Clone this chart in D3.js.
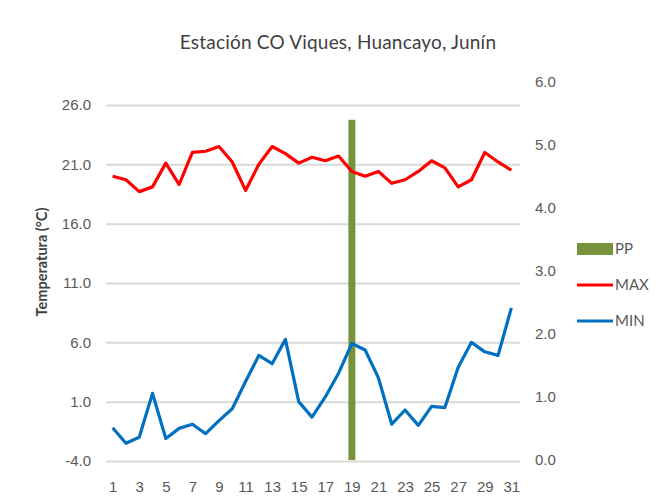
<!DOCTYPE html>
<html lang="es">
<head>
<meta charset="UTF-8">
<title>Estación CO Viques, Huancayo, Junín</title>
<script src="https://d3js.org/d3.v7.min.js"></script>
<style>
    body { margin: 0; background: white; }
    svg { display: block; font-family: Lato, 'Open Sans', sans-serif; }
</style>
</head>
<body>
<svg width="665" height="504"></svg>
<script>
    // days of the month
    const days = d3.range(1, 32);
    // daily max / min temperature (°C)
    const tmax = [20.0, 19.7, 18.7, 19.1, 21.1, 19.3, 22.0, 22.1, 22.5, 21.2,
                  18.8, 21.0, 22.5, 21.9, 21.1, 21.6, 21.3, 21.7, 20.4, 20.0,
                  20.4, 19.4, 19.7, 20.4, 21.3, 20.7, 19.1, 19.7, 22.0, 21.2, 20.5];
    const tmin = [-1.2, -2.5, -2.0, 1.7, -2.1, -1.25, -0.9, -1.7, -0.6, 0.4,
                  2.7, 4.9, 4.2, 6.25, 1.0, -0.3, 1.4, 3.4, 5.9, 5.35,
                  3.0, -0.9, 0.3, -1.0, 0.6, 0.5, 3.9, 6.0, 5.2, 4.9, 8.9];
    // precipitation (right axis)
    const pp = days.map(d => d === 19 ? 5.4 : 0);
    const leftTicks = [-4, 1, 6, 11, 16, 21, 26];
    const rightTicks = [0, 1, 2, 3, 4, 5, 6];

    const svg = d3.select("svg");
    const plot = {left: 106, right: 518, top: 105, bottom: 461};
    const textColor = "#595959";
    const fmt = d => d.toFixed(1);

    const x = d3.scalePoint()
        .domain(days)
        .range([plot.left, plot.right])
        .padding(0.5);

    const y = d3.scaleLinear()
        .domain([-4, 26])
        .range([plot.bottom, plot.top]);

    const y2 = d3.scaleLinear()
        .domain([0, 6])
        .range([plot.bottom - 1, 82]);

    // gridlines + left axis
    svg.append("g")
        .attr("transform", `translate(${plot.left},0)`)
        .call(d3.axisLeft(y).tickValues(leftTicks).tickFormat(fmt).tickSize(0).tickPadding(15))
        .call(g => g.select(".domain").remove())
        .call(g => g.selectAll(".tick line")
            .attr("x2", plot.right - plot.left + 2)
            .attr("stroke", "#d9d9d9")
            .attr("stroke-width", 2))
        .call(g => g.selectAll(".tick text")
            .attr("fill", textColor)
            .style("font-size", "15px"));

    // right axis (labels only)
    svg.append("g")
        .attr("transform", `translate(${plot.right},0)`)
        .call(d3.axisRight(y2).tickValues(rightTicks).tickFormat(fmt).tickSize(0).tickPadding(17))
        .call(g => g.select(".domain").remove())
        .call(g => g.selectAll(".tick text")
            .attr("fill", textColor)
            .style("font-size", "15px"));

    // x axis
    svg.append("g")
        .attr("transform", `translate(0,${plot.bottom})`)
        .call(d3.axisBottom(x).tickValues(days.filter(d => d % 2 === 1)).tickSize(0).tickPadding(20))
        .call(g => g.select(".domain").remove())
        .call(g => g.selectAll(".tick text")
            .attr("fill", textColor)
            .style("font-size", "15px"));

    // PP bars
    svg.append("g")
        .selectAll("rect")
        .data(days.filter((d, i) => pp[i] > 0))
        .join("rect")
        .attr("x", d => x(d) - 3.5)
        .attr("width", 7)
        .attr("y", d => y2(pp[d - 1]))
        .attr("height", d => y2(0) - y2(pp[d - 1]))
        .attr("fill", "#77933c");

    const line = d3.line()
        .x((d, i) => x(days[i]))
        .y(d => y(d));

    svg.append("path")
        .datum(tmax)
        .attr("fill", "none")
        .attr("stroke", "#ff0000")
        .attr("stroke-width", 3.2)
        .attr("stroke-linejoin", "round")
        .attr("d", line);

    svg.append("path")
        .datum(tmin)
        .attr("fill", "none")
        .attr("stroke", "#0070c0")
        .attr("stroke-width", 3.2)
        .attr("stroke-linejoin", "round")
        .attr("d", line);

    // title
    svg.append("text")
        .attr("x", 338)
        .attr("y", 49)
        .attr("text-anchor", "middle")
        .attr("fill", "#404040")
        .style("font-size", "19px")
        .style("letter-spacing", "0.2px")
        .text("Estación CO Viques, Huancayo, Junín");

    // y axis title
    svg.append("text")
        .attr("transform", "translate(47,262) rotate(-90)")
        .attr("text-anchor", "middle")
        .attr("fill", "#404040")
        .style("font-size", "14.5px")
        .style("font-weight", "bold")
        .text("Temperatura (°C)");

    // legend
    const legendItems = [
        {label: "PP", color: "#77933c", type: "rect"},
        {label: "MAX", color: "#ff0000", type: "line"},
        {label: "MIN", color: "#0070c0", type: "line"}
    ];
    const legend = svg.append("g").attr("transform", "translate(577,249)");
    legendItems.forEach((s, i) => {
        const ly = i * 36;
        if (s.type === "rect") {
            legend.append("rect")
                .attr("x", 0).attr("y", ly - 6)
                .attr("width", 36).attr("height", 12)
                .attr("fill", s.color);
        } else {
            legend.append("line")
                .attr("x1", 0).attr("x2", 36)
                .attr("y1", ly).attr("y2", ly)
                .attr("stroke", s.color)
                .attr("stroke-width", 3.2);
        }
        legend.append("text")
            .attr("x", 38)
            .attr("y", ly)
            .attr("dy", "0.35em")
            .attr("fill", textColor)
            .style("font-size", "15px")
            .text(s.label);
    });
</script>
</body>
</html>
